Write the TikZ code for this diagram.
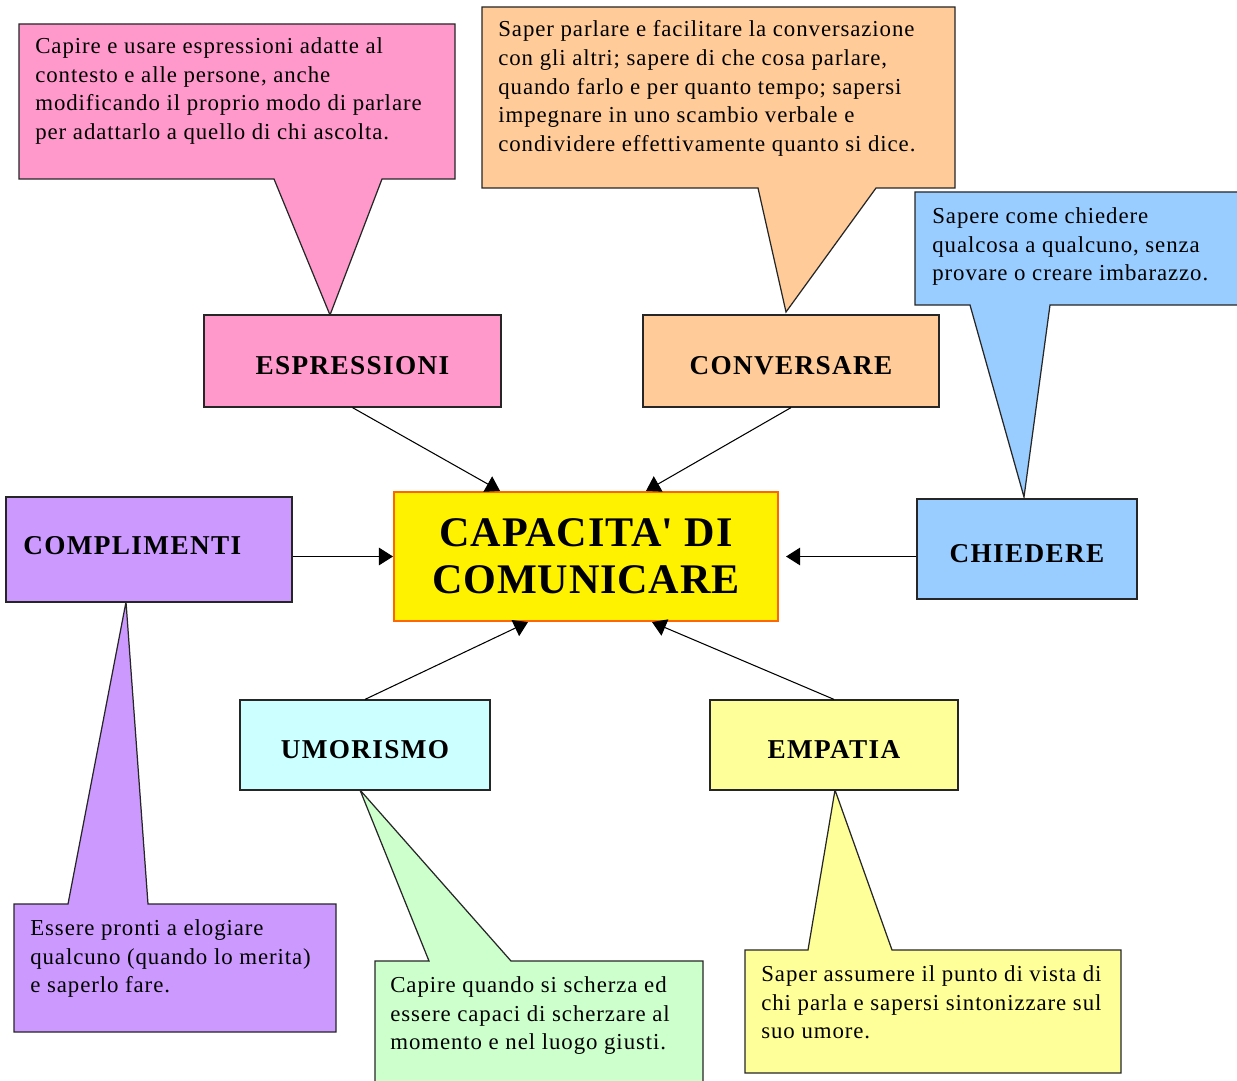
\documentclass[tikz,border=0pt]{standalone}
\usepackage{fontspec}
\setmainfont{Liberation Serif}
\newfontfamily\notefont[LetterSpace=4]{Liberation Serif}
\newfontfamily\keyfont[LetterSpace=5]{Liberation Serif}
\newfontfamily\corefont[LetterSpace=2]{Liberation Serif}
\usetikzlibrary{arrows.meta,positioning}

\definecolor{pinkbox}{HTML}{FF99CC}
\definecolor{peachbox}{HTML}{FFCC99}
\definecolor{bluebox}{HTML}{99CCFF}
\definecolor{lilacbox}{HTML}{CC99FF}
\definecolor{cyanbox}{HTML}{CCFFFF}
\definecolor{lemonbox}{HTML}{FFFF99}
\definecolor{mintbox}{HTML}{CCFFCC}
\definecolor{coreborder}{HTML}{FF6600}

\begin{document}
\begin{tikzpicture}
		[x=0.02cm,y=-0.02cm,
		bubble/.style={draw=black!85,line width=0.7pt},
		key node/.style={shape=rectangle,draw=black!85,line width=0.7pt,inner sep=0pt,
			text height=15pt,text depth=0pt,font=\keyfont\fontsize{15.5}{17}\selectfont\bfseries},
		core node/.style={shape=rectangle,draw=coreborder,fill=yellow,line width=1.2pt,inner sep=0pt,
			align=center,font=\corefont\fontsize{24}{27}\selectfont\bfseries},
		note/.style={anchor=north west,align=left,inner sep=0pt,
			font=\notefont\fontsize{13}{16.4}\selectfont},
		link/.style={-{Triangle[length=8pt,width=10pt]},line width=0.6pt}
		]
		
		\useasboundingbox (0,0) rectangle (1237,1081);
		
		% callouts
		\path[bubble,fill=pinkbox] (19,24) -- (455,24) -- (455,179) -- (382,179) -- (330,315) -- (274,179) -- (19,179) -- cycle;
		\path[bubble,fill=peachbox] (482,7) -- (955,7) -- (955,188) -- (876,188) -- (786,312) -- (758,188) -- (482,188) -- cycle;
		\path[bubble,fill=bluebox] (915,192) -- (1242,192) -- (1242,305) -- (1050,305) -- (1024,497) -- (970,305) -- (915,305) -- cycle;
		\path[bubble,fill=lilacbox] (14,904) -- (68,904) -- (126,602) -- (148,904) -- (336,904) -- (336,1032) -- (14,1032) -- cycle;
		\path[bubble,fill=mintbox] (375,961) -- (429,961) -- (360,790) -- (511,961) -- (703,961) -- (703,1086) -- (375,1086) -- cycle;
		\path[bubble,fill=lemonbox] (745,950) -- (808,950) -- (835,790) -- (892,950) -- (1121,950) -- (1121,1073) -- (745,1073) -- cycle;
		
		\node [note] (espnote) at (35,37) {Capire e usare espressioni adatte al\\contesto e alle persone, anche\\modificando il proprio modo di parlare\\per adattarlo a quello di chi ascolta.};
		\node [note] (convnote) at (498,20) {Saper parlare e facilitare la conversazione\\con gli altri; sapere di che cosa parlare,\\quando farlo e per quanto tempo; sapersi\\impegnare in uno scambio verbale e\\condividere effettivamente quanto si dice.};
		\node [note] (chiednote) at (932,207) {Sapere come chiedere\\qualcosa a qualcuno, senza\\provare o creare imbarazzo.};
		\node [note] (complnote) at (30,919) {Essere pronti a elogiare\\qualcuno (quando lo merita)\\e saperlo fare.};
		\node [note] (umornote) at (390,976) {Capire quando si scherza ed\\essere capaci di scherzare al\\momento e nel luogo giusti.};
		\node [note] (empnote) at (761,965) {Saper assumere il punto di vista di\\chi parla e sapersi sintonizzare sul\\suo umore.};
		
		% main boxes
		\node [core node,minimum width=7.68cm,minimum height=2.58cm] (core) at (586,556.5) {CAPACITA\textquotesingle{} DI\\COMUNICARE};
		
		\node [key node,fill=pinkbox,minimum width=5.94cm,minimum height=1.84cm] (esp) at (352.5,361) {ESPRESSIONI};
		\node [key node,fill=peachbox,minimum width=5.92cm,minimum height=1.84cm] (conv) at (791,361) {CONVERSARE};
		\node [key node,fill=lilacbox,minimum width=5.72cm,minimum height=2.10cm] (compl) at (149,549.5) {};
		\node [anchor=west,inner sep=0pt,font=\keyfont\fontsize{15.5}{17}\selectfont\bfseries] (compltext) at (23,546) {COMPLIMENTI};
		\node [key node,fill=bluebox,minimum width=4.40cm,minimum height=2.00cm] (chied) at (1027,549) {CHIEDERE};
		\node [key node,fill=cyanbox,minimum width=5.00cm,minimum height=1.80cm] (umor) at (365,745) {UMORISMO};
		\node [key node,fill=lemonbox,minimum width=4.96cm,minimum height=1.80cm] (emp) at (834,745) {EMPATIA};
		
		% arrows
		\draw[link] (esp.south) -- ([xshift=-1.72cm]core.north);
		\draw[link] (conv.south) -- ([xshift=1.2cm]core.north);
		\draw[link] (compl.east |- core) -- (core.west);
		\draw[link] (chied.west |- core) -- ([xshift=4pt]core.east);
		\draw[link] (umor.north) -- ([xshift=-1.16cm]core.south);
		\draw[link] (emp.north) -- ([xshift=1.32cm]core.south);
		
\end{tikzpicture}
\end{document}
